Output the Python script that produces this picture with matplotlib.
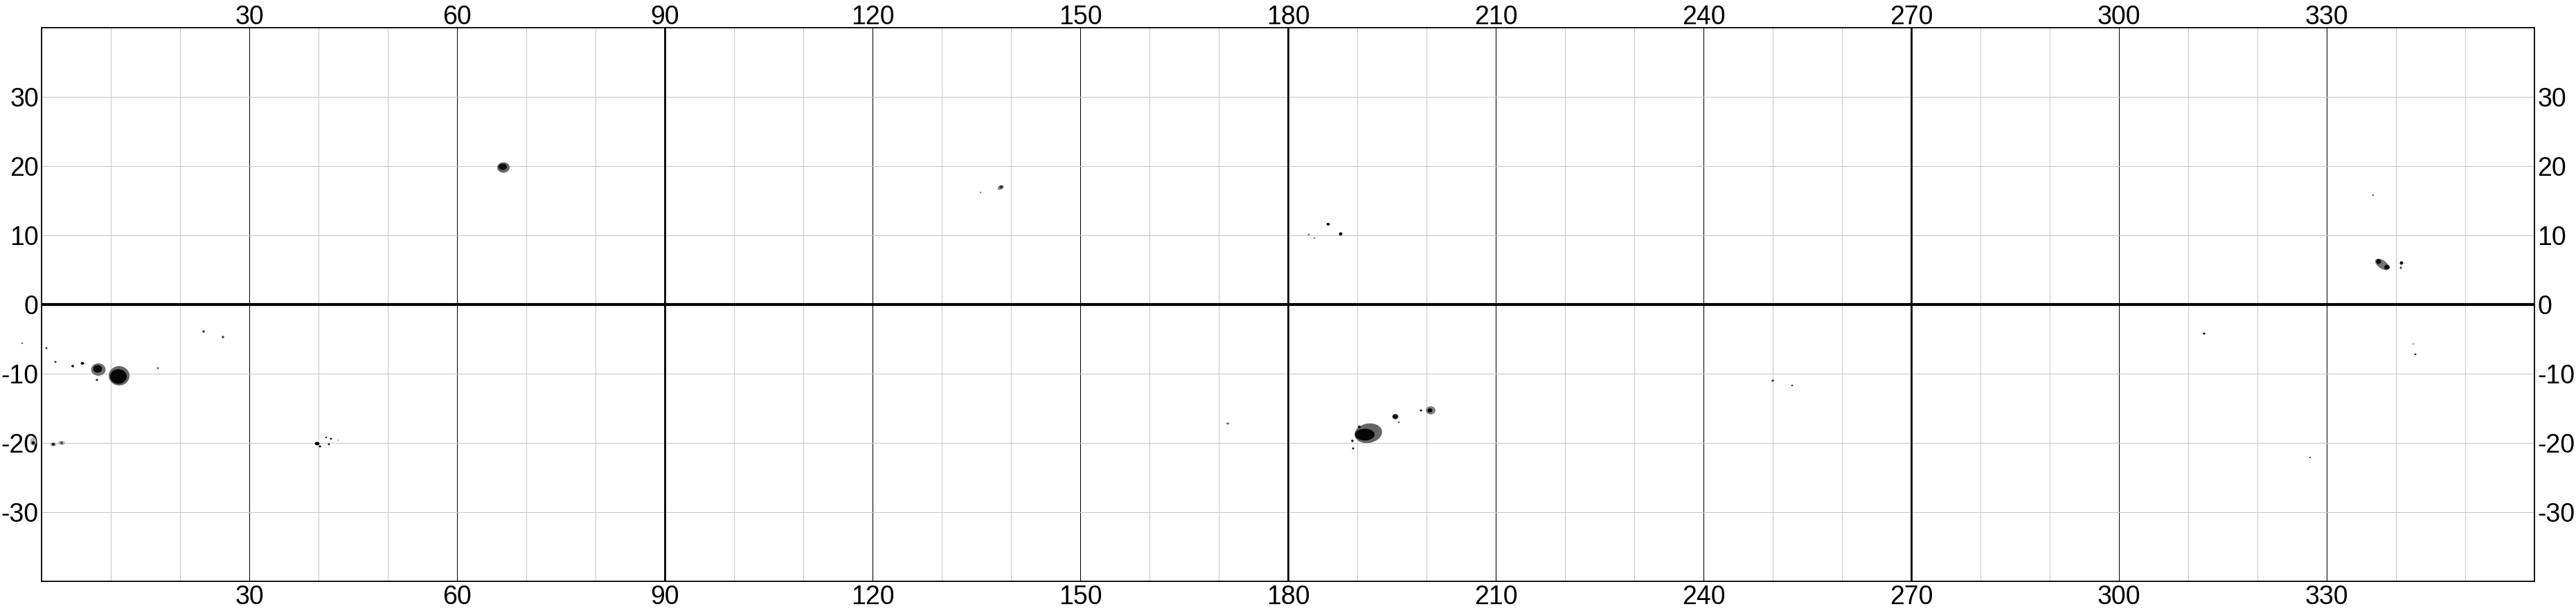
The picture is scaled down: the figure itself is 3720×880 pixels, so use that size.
import matplotlib
matplotlib.use('Agg')
import matplotlib.pyplot as plt
from matplotlib.patches import Ellipse

plt.rcParams['font.family'] = ['Liberation Sans', 'DejaVu Sans']
plt.rcParams['axes.unicode_minus'] = False

# axis ticks (Carrington longitude / latitude)
lon_ticks = [30, 60, 90, 120, 150, 180, 210, 240, 270, 300, 330]
lat_ticks = [-30, -20, -10, 0, 10, 20, 30]
bold_meridians = [90, 180, 270]

# penumbrae: lon, lat, width, height, angle, grey level
pen_lon = [11.2, 8.2, 66.7, 191.6, 200.6, 338.0, 2.9, 1.7, 138.5, -1.2, 195.5]
pen_lat = [-10.3, -9.4, 19.8, -18.6, -15.3, 5.8, -20.0, -20.2, 16.9, -19.8, -16.2]
pen_w = [3.0, 2.1, 1.8, 4.0, 1.4, 2.3, 1.0, 0.9, 0.9, 0.9, 0.9]
pen_h = [2.8, 1.8, 1.5, 2.8, 1.2, 1.2, 0.6, 0.6, 0.6, 1.2, 0.8]
pen_ang = [0, 0, 0, 10, 0, -35, 0, 0, 30, 0, 0]
pen_grey = [0.4, 0.45, 0.4, 0.4, 0.5, 0.45, 0.7, 0.7, 0.5, 0.7, 0.4]

# umbrae and small spots: lon, lat, width, height, grey level
umb_lon = [11.1, 8.1, 8.0, 5.9, 4.5, 2.0, 0.7, -2.8, 16.8, 23.4, 26.2,
           -1.2, 1.7, 2.9, 39.8, 40.2, 41.1, 41.8, 41.5, 42.8,
           66.6, 138.6, 135.6, 185.8, 187.6, 183.0, 183.8, 171.3,
           191.1, 190.3, 189.3, 189.4, 195.5, 196.0, 200.5, 199.2,
           250.0, 252.8, 312.3, 327.6,
           337.5, 338.7, 340.8, 340.7, 336.7, 342.5, 342.8]
umb_lat = [-10.4, -9.3, -10.9, -8.5, -8.9, -8.3, -6.3, -5.6, -9.2, -3.9, -4.7,
           -20.0, -20.2, -20.0, -20.1, -20.5, -19.2, -19.4, -20.2, -19.6,
           19.9, 17.0, 16.2, 11.6, 10.2, 10.1, 9.6, -17.2,
           -18.8, -17.7, -19.7, -20.8, -16.2, -17.0, -15.3, -15.3,
           -11.0, -11.7, -4.2, -22.1,
           6.2, 5.4, 6.0, 5.3, 15.8, -5.7, -7.2]
umb_w = [2.4, 1.3, 0.35, 0.5, 0.4, 0.3, 0.3, 0.25, 0.3, 0.35, 0.35,
         0.5, 0.45, 0.4, 0.7, 0.35, 0.25, 0.3, 0.3, 0.15,
         1.2, 0.5, 0.25, 0.5, 0.5, 0.3, 0.25, 0.4,
         2.8, 0.4, 0.35, 0.3, 0.7, 0.25, 0.7, 0.35,
         0.4, 0.3, 0.35, 0.2,
         0.7, 0.8, 0.5, 0.3, 0.3, 0.2, 0.3]
umb_h = [2.1, 1.1, 0.3, 0.4, 0.35, 0.3, 0.3, 0.25, 0.3, 0.35, 0.35,
         0.5, 0.4, 0.35, 0.5, 0.3, 0.25, 0.3, 0.3, 0.15,
         0.9, 0.4, 0.25, 0.4, 0.5, 0.3, 0.25, 0.3,
         1.7, 0.4, 0.35, 0.3, 0.6, 0.25, 0.6, 0.3,
         0.3, 0.25, 0.3, 0.2,
         0.7, 0.7, 0.5, 0.3, 0.25, 0.2, 0.25]
umb_grey = [0.02, 0.05, 0.15, 0.05, 0.1, 0.2, 0.25, 0.4, 0.4, 0.2, 0.25,
            0.1, 0.1, 0.25, 0.0, 0.05, 0.1, 0.1, 0.15, 0.4,
            0.05, 0.2, 0.55, 0.05, 0.05, 0.5, 0.5, 0.4,
            0.02, 0.05, 0.1, 0.1, 0.05, 0.3, 0.0, 0.1,
            0.25, 0.3, 0.1, 0.1,
            0.05, 0.05, 0.05, 0.2, 0.4, 0.4, 0.1]


def add_ellipses(ax, lons, lats, ws, hs, angs, greys, z):
    for lo, la, w, h, a, g in zip(lons, lats, ws, hs, angs, greys):
        ax.add_patch(Ellipse((lo, la), w, h, angle=a, facecolor=str(g),
                             edgecolor='none', zorder=z, clip_on=False))


fig = plt.figure(figsize=(37.2, 8.8), dpi=100)
ax = fig.add_axes([60 / 3720, 40 / 880, 3600 / 3720, 800 / 880])

ax.set_xlim(0, 360)
ax.set_ylim(-40, 40)

ax.set_xticks(lon_ticks)
ax.set_xticks(range(0, 361, 10), minor=True)
ax.set_yticks(lat_ticks)
ax.set_yticklabels([str(t) for t in lat_ticks])

ax.grid(True, which='minor', axis='x', color='#c8c8c8', lw=0.75, zorder=0)
ax.grid(True, which='major', axis='y', color='#c8c8c8', lw=0.75, zorder=0)
ax.grid(True, which='major', axis='x', color='black', lw=0.75, zorder=0.5)
ax.set_axisbelow(True)
for m in bold_meridians:
    ax.axvline(m, color='black', lw=2.0, zorder=0.6)
ax.axhline(0, color='black', lw=3.0, zorder=5)

ax.tick_params(which='both', length=0, labelsize=27, labeltop=True,
               labelright=True)
ax.tick_params(axis='x', pad=3.6)
ax.tick_params(axis='y', pad=3)
# top labels sit on their baseline just above the frame
for t in ax.xaxis.get_major_ticks():
    t.label2.set_va('baseline')

add_ellipses(ax, pen_lon, pen_lat, pen_w, pen_h, pen_ang, pen_grey, 2)
add_ellipses(ax, umb_lon, umb_lat, umb_w, umb_h, [0] * len(umb_lon),
             umb_grey, 3)

for s in ax.spines.values():
    s.set_linewidth(1.3)

fig.savefig('out.png', dpi=100)
